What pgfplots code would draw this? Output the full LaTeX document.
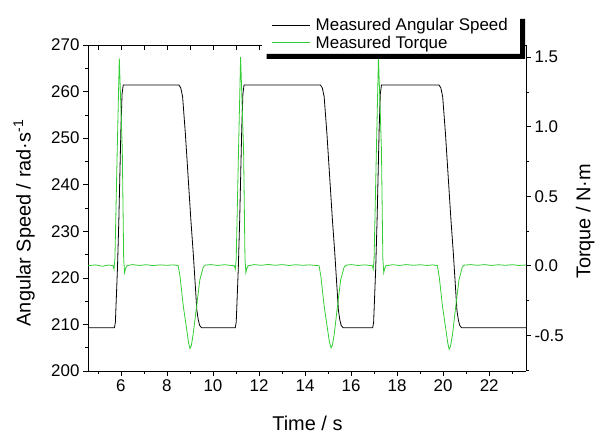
\documentclass[border=0pt]{standalone}
\usepackage{fontspec}
\setmainfont{Liberation Sans}
\usepackage{pgfplots}
\pgfplotsset{compat=1.18}
\usepackage{pgfplotstable}

\definecolor{torquegreen}{RGB}{50,205,50}

% angular speed, rad/s
\pgfplotstableread{
t w
4.57 209.3
5.72 209.3
5.76 210.5
5.85 222
5.91 232.4
6.00 252
6.05 259.5
6.10 261.4
8.52 261.4
8.60 260.8
8.68 258.9
8.80 251
9.04 232.4
9.14 225.5
9.30 213
9.36 211
9.42 209.8
9.50 209.3
10.97 209.3
11.01 210.5
11.10 222
11.16 232.4
11.25 252
11.30 259.5
11.35 261.4
14.67 261.4
14.75 260.8
14.83 258.9
14.95 251
15.19 232.4
15.29 225.5
15.45 213
15.51 211
15.57 209.8
15.65 209.3
16.94 209.3
16.98 210.5
17.07 222
17.13 232.4
17.22 252
17.27 259.5
17.32 261.4
19.82 261.4
19.90 260.8
19.98 258.9
20.10 251
20.34 232.4
20.44 225.5
20.60 213
20.66 211
20.72 209.8
20.80 209.3
23.60 209.3
}\speed

% torque, N m
\pgfplotstableread{
t q
4.57 0.000
4.90 0.006
5.20 -0.004
5.45 0.005
5.66 0.000
5.70 -0.025
5.74 0.05
5.84 0.83
5.93 1.49
6.06 0.83
6.12 0.05
6.16 -0.05
6.20 -0.02
6.26 0.000
6.50 0.008
6.80 0.002
7.10 0.007
7.40 0.001
7.70 0.006
8.00 0.003
8.30 0.006
8.49 0.000
8.57 -0.08
8.71 -0.29
8.86 -0.46
8.94 -0.555
9.00 -0.595
9.06 -0.575
9.14 -0.49
9.29 -0.29
9.43 -0.10
9.58 -0.01
9.66 0.004
9.90 0.008
10.20 0.002
10.50 0.007
10.80 0.002
10.93 0.000
10.97 -0.025
11.01 0.05
11.11 0.83
11.20 1.50
11.33 0.83
11.39 0.05
11.43 -0.05
11.47 -0.02
11.53 0.000
11.80 0.008
12.10 0.003
12.40 0.009
12.70 0.003
13.00 0.008
13.30 0.002
13.60 0.007
13.90 0.003
14.20 0.006
14.45 0.002
14.61 0.000
14.69 -0.08
14.83 -0.29
14.98 -0.46
15.06 -0.55
15.13 -0.59
15.19 -0.57
15.27 -0.49
15.41 -0.29
15.55 -0.10
15.70 -0.01
15.78 0.004
16.00 0.008
16.30 0.002
16.60 0.006
16.92 0.000
16.96 -0.025
17.00 0.05
17.10 0.83
17.19 1.50
17.32 0.83
17.38 0.05
17.42 -0.05
17.46 -0.02
17.52 0.000
17.80 0.007
18.10 0.002
18.40 0.008
18.70 0.003
19.00 0.007
19.30 0.002
19.55 0.006
19.75 0.000
19.83 -0.08
19.97 -0.29
20.12 -0.46
20.20 -0.555
20.26 -0.60
20.32 -0.58
20.41 -0.49
20.55 -0.29
20.69 -0.10
20.83 -0.01
20.91 0.004
21.20 0.008
21.50 0.003
21.80 0.008
22.10 0.002
22.40 0.007
22.70 0.003
23.00 0.007
23.30 0.002
23.60 0.005
}\torque

\pgfplotsset{
  common/.style={
    scale only axis, width=438bp, height=326bp,
    xmin=4.57, xmax=23.6,
    at={(0,0)}, anchor=south west,
    /pgf/number format/assume math mode=true,
    tick style={black, line width=0.6bp},
    major tick length=5bp, minor tick length=3bp,
    axis line style={line width=0.8bp},
    tick label style={font=\fontsize{17}{20}\selectfont},
    label style={font=\fontsize{20}{24}\selectfont},
  }
}

\begin{document}
\begin{tikzpicture}
\useasboundingbox (-88bp,-65bp) rectangle (507bp,371bp);

\begin{axis}[common,
  axis x line*=bottom, axis y line*=left,
  tick align=outside,
  ymin=200, ymax=270, ytick={200,210,...,270}, minor ytick={205,215,...,265},
  xtick={6,8,...,22}, minor xtick={5,7,...,23},
  xlabel={Time / s},
  ylabel={Angular Speed / rad·s\textsuperscript{-1}},
  xlabel style={at={(axis description cs:0.501,-0.1825)}, anchor=base},
  ylabel style={at={(axis description cs:-0.146,0.454)}, anchor=center},
]
\addplot[black, line width=0.8bp] table[x=t, y=w] {\speed};
\end{axis}

\begin{axis}[common,
  axis x line=none, axis y line*=right,
  tick align=outside,
  ymin=-0.757, ymax=1.587,
  ytick={-0.5,0,...,1.5}, minor ytick={-0.75,-0.25,...,1.25},
  yticklabel style={/pgf/number format/.cd, fixed, fixed zerofill, precision=1},
  ylabel={Torque / N·m},
  ylabel style={at={(axis description cs:1.135,0.459)}, anchor=center},
]
\addplot[torquegreen, line width=0.8bp] table[x=t, y=q] {\torque};
\end{axis}

\begin{axis}[common,
  axis x line*=top, axis y line=none,
  tick align=inside,
  ymin=0, ymax=1,
  xtick={5,...,23}, xticklabels={},
  legend cell align=left,
  legend image code/.code={\draw[#1] (0bp,0bp) -- (38bp,0bp);},
  legend style={at={(axis description cs:0.9863,1.0952)}, anchor=north east,
    name=leg, draw=none, fill=white, font=\fontsize{17}{20}\selectfont,
    inner xsep=10bp, inner ysep=2bp, column sep=3bp, row sep=0bp},
]
\addlegendimage{black, line width=0.8bp}
\addlegendentry{Measured Angular Speed}
\addlegendimage{torquegreen, line width=0.8bp}
\addlegendentry{Measured Torque}
\end{axis}
% Origin-style shadow along the right and bottom edges of the legend box
\fill[black] ([xshift=5bp]leg.south west) -- ([xshift=5bp,yshift=-5bp]leg.south west)
  -- ([xshift=5bp,yshift=-5bp]leg.south east) -- ([xshift=5bp,yshift=-5bp]leg.north east)
  -- ([yshift=-5bp]leg.north east) -- (leg.south east) -- cycle;
\end{tikzpicture}
\end{document}
